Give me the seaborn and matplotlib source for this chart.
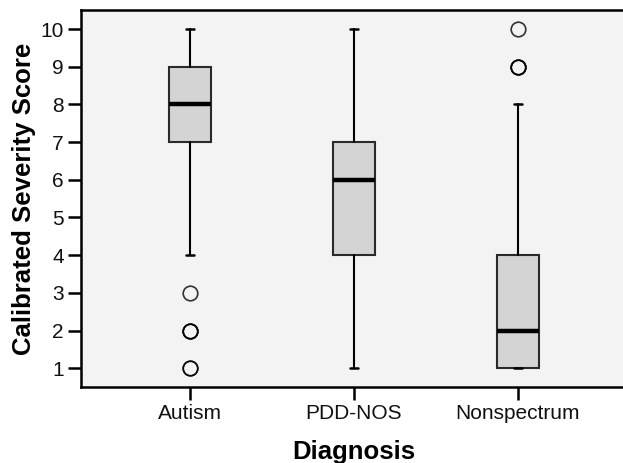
import matplotlib
matplotlib.use("Agg")
import matplotlib.pyplot as plt
import seaborn as sns

groups = ["Autism", "PDD-NOS", "Nonspectrum"]
whislo = [4, 1, 1]
q1 = [7, 4, 1]
med = [8, 6, 2]
q3 = [9, 7, 4]
whishi = [10, 10, 8]
# repeated values stack up and look bolder, like the original
fliers = [[3, 2, 2, 2, 1, 1], [], [9, 9, 9, 10]]

sns.set_style("ticks")
plt.rcParams['font.family'] = ['Liberation Sans', 'DejaVu Sans']
plt.rcParams['text.color'] = 'black'
plt.rcParams['axes.labelcolor'] = 'black'

fig = plt.figure(figsize=(6.23, 4.63), dpi=100)
ax = fig.add_axes([0.130, 0.164, 0.875, 0.814])
ax.set_facecolor("#f3f3f3")

stats = []
for i in range(len(groups)):
    stats.append(dict(label=groups[i], whislo=whislo[i], q1=q1[i], med=med[i],
                      q3=q3[i], whishi=whishi[i], fliers=fliers[i]))

ax.bxp(stats, positions=range(len(groups)), widths=0.256, capwidths=0.045,
       patch_artist=True, showfliers=True,
       boxprops=dict(facecolor="#d4d4d4", edgecolor="#2a2a2a", linewidth=1.5),
       medianprops=dict(color="black", linewidth=3.2, solid_capstyle="butt"),
       whiskerprops=dict(color="black", linewidth=1.5),
       capprops=dict(color="black", linewidth=1.8),
       flierprops=dict(marker="o", markersize=10.5, markerfacecolor="none",
                       markeredgecolor="black", markeredgewidth=1.2, alpha=0.8))

ax.set_xlim(-0.665, 2.66)
ax.set_ylim(0.5, 10.5)
ax.set_yticks(range(1, 11))
ax.set_xticks(range(len(groups)))
ax.set_xticklabels(groups)

for s in ax.spines.values():
    s.set_linewidth(1.8)
    s.set_color("black")
ax.tick_params(axis="both", direction="out", length=9.5, width=1.8, labelsize=15,
               colors="black", labelcolor="#111111", pad=3)

ax.set_xlabel("Diagnosis", fontsize=18.5, fontweight="bold", labelpad=12)
ax.set_ylabel("Calibrated Severity Score", fontsize=18.5, fontweight="bold", labelpad=3)

fig.savefig("out.png", dpi=100)
